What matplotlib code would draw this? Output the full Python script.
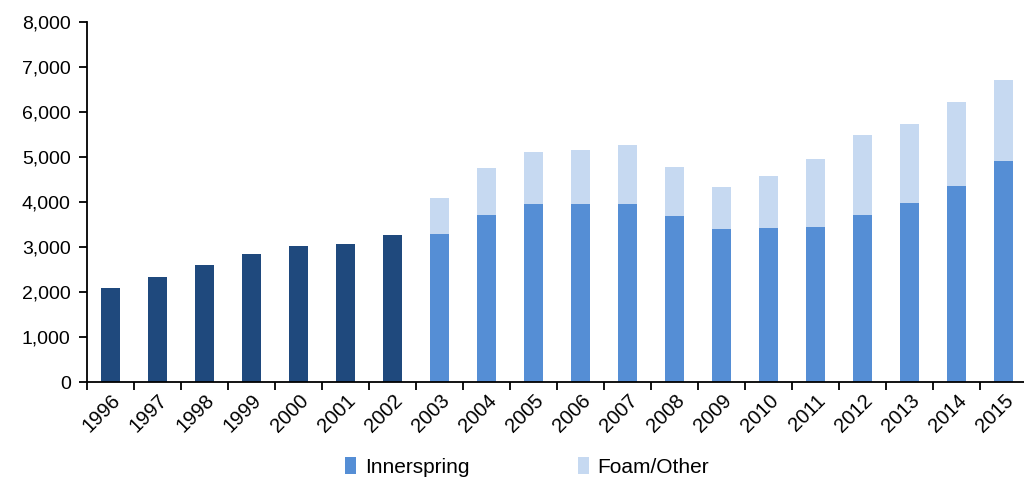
import matplotlib
matplotlib.use("Agg")
import matplotlib.pyplot as plt
from matplotlib.ticker import FuncFormatter, FixedLocator
import numpy as np

years = ["1996", "1997", "1998", "1999", "2000", "2001", "2002", "2003", "2004", "2005",
         "2006", "2007", "2008", "2009", "2010", "2011", "2012", "2013", "2014", "2015"]
total_early = [2100, 2340, 2610, 2860, 3030, 3080, 3280]
innerspring = [3300, 3730, 3970, 3965, 3965, 3700, 3410, 3430, 3455, 3715, 3995, 4360, 4920]
totals_late = [4100, 4760, 5120, 5160, 5270, 4790, 4350, 4590, 4970, 5505, 5745, 6240, 6720]
foam_other = [t - i for t, i in zip(totals_late, innerspring)]

plt.rcParams['font.family'] = ['Liberation Sans', 'DejaVu Sans']

fig = plt.figure(figsize=(10.24, 4.79), dpi=100)
ax = fig.add_axes([87.3 / 1024, 1 - 382.4 / 479, 940 / 1024, 360 / 479])

n_early = len(total_early)
x_early = np.arange(n_early)
x_late = np.arange(n_early, len(years))
w = 0.4

ax.bar(x_early, total_early, width=w, color="#1F497D")
ax.bar(x_late, innerspring, width=w, color="#558ED5", label="Innerspring")
ax.bar(x_late, foam_other, width=w, bottom=innerspring, color="#C6D9F1", label="Foam/Other")

ax.set_xlim(-0.5, len(years) - 0.5)
ax.set_ylim(0, 8000)
ax.set_yticks(np.arange(0, 8001, 1000))
ax.yaxis.set_major_formatter(FuncFormatter(lambda v, p: f"{int(v):,}"))

ax.xaxis.set_major_locator(FixedLocator(np.arange(-0.5, len(years), 1.0)))
ax.xaxis.set_minor_locator(FixedLocator(np.arange(len(years))))
ax.set_xticklabels([], minor=False)
ax.set_xticklabels(years, minor=True, rotation=45, ha="right", rotation_mode="anchor")
ax.tick_params(axis="x", which="major", length=6, width=1.3, direction="out")
ax.tick_params(axis="x", which="minor", length=0, pad=6, labelsize=14.5)
ax.tick_params(axis="y", length=6, width=1.3, labelsize=14, pad=6)

for s in ["top", "right"]:
    ax.spines[s].set_visible(False)
for s in ["left", "bottom"]:
    ax.spines[s].set_linewidth(1.3)

ax.legend(loc="lower center", bbox_to_anchor=(527 / 1024, -8 / 479), bbox_transform=fig.transFigure,
          ncol=2, frameon=False, fontsize=15, handlelength=0.55, handleheight=0.9,
          handletextpad=0.4, columnspacing=5.2, borderaxespad=0.1)

fig.savefig("out.png", dpi=100)
